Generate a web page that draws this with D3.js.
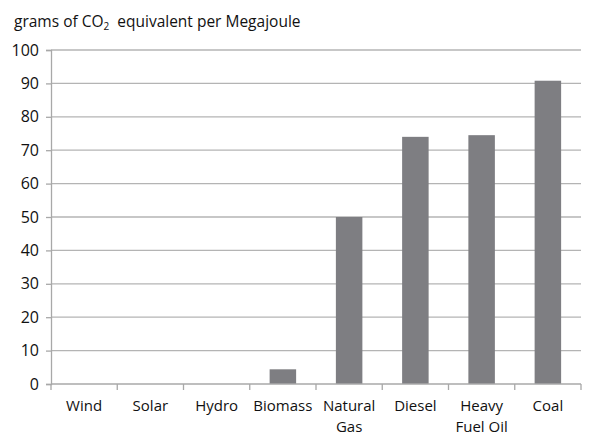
<!DOCTYPE html>
<html>
<head>
<meta charset="utf-8">
<script src="https://cdn.jsdelivr.net/npm/d3@7"></script>
<style>
  body { margin: 0; background: #fff; }
  svg { font-family: "Open Sans", "Noto Sans", sans-serif; }
</style>
</head>
<body>
<svg id="chart" width="590" height="437"></svg>
<script>
// data
let categories = ["Wind", "Solar", "Hydro", "Biomass", "Natural Gas", "Diesel", "Heavy Fuel Oil", "Coal"];
let labelLines = [["Wind"], ["Solar"], ["Hydro"], ["Biomass"], ["Natural", "Gas"], ["Diesel"], ["Heavy", "Fuel Oil"], ["Coal"]];
let emissions = [0, 0, 0, 4.4, 50, 74, 74.5, 90.8];
let yTicks = [0, 10, 20, 30, 40, 50, 60, 70, 80, 90, 100];

let chart = d3.select("#chart");
let plotLeft = 51, plotRight = 581, plotTop = 50, plotBottom = 384;

let data = categories.map(function(d, i) { return { name: d, value: emissions[i], lines: labelLines[i] }; });

// x scale, one band per category
let x = d3.scaleBand()
    .domain(categories)
    .range([plotLeft, plotRight])
    .padding(0);

// y scale
let y = d3.scaleLinear()
    .domain([0, 100])
    .range([plotBottom, plotTop]);

// gridlines
chart.selectAll("grid")
    .data(yTicks.slice(1))
    .enter()
    .append("line")
    .attr("x1", plotLeft)
    .attr("x2", plotRight)
    .attr("y1", function(d) { return y(d); })
    .attr("y2", function(d) { return y(d); })
    .attr("stroke", "#b4b4b4")
    .attr("stroke-width", 1.3);

// y axis
let yAxis = d3.axisLeft(y)
    .tickValues(yTicks)
    .tickSize(5)
    .tickPadding(7);
let yAxisGroup = chart.append("g")
    .attr("transform", "translate(" + plotLeft + ",0)")
    .call(yAxis);
yAxisGroup.select(".domain").attr("stroke", "#a8a8a8").attr("stroke-width", 1.3);
yAxisGroup.selectAll(".tick line").attr("stroke", "#a8a8a8").attr("stroke-width", 1.3);
yAxisGroup.selectAll(".tick text")
    .style("font-size", "16px")
    .style("font-family", "'Open Sans', sans-serif")
    .attr("fill", "#111");

// bars
chart.selectAll("bar")
    .data(data)
    .enter()
    .append("rect")
    .attr("x", function(d) { return x(d.name) + x.bandwidth() * 0.3; })
    .attr("y", function(d) { return y(d.value); })
    .attr("width", x.bandwidth() * 0.4)
    .attr("height", function(d) { return y(0) - y(d.value); })
    .attr("fill", "#7e7e82");

// x axis line and boundary ticks
chart.append("line")
    .attr("x1", plotLeft)
    .attr("x2", plotRight)
    .attr("y1", y(0))
    .attr("y2", y(0))
    .attr("stroke", "#a8a8a8")
    .attr("stroke-width", 1.3);

let edges = categories.map(function(d) { return x(d); }).concat([x.range()[1]]);
chart.selectAll("xtick")
    .data(edges)
    .enter()
    .append("line")
    .attr("x1", function(d) { return d; })
    .attr("x2", function(d) { return d; })
    .attr("y1", y(0))
    .attr("y2", y(0) + 6)
    .attr("stroke", "#a8a8a8")
    .attr("stroke-width", 1.3);

// category labels
let labels = chart.selectAll("xlabel")
    .data(data)
    .enter()
    .append("text")
    .attr("x", function(d) { return x(d.name) + x.bandwidth() / 2; })
    .attr("y", 411)
    .style("font-size", "15px")
    .style("text-anchor", "middle")
    .attr("fill", "#111");
labels.selectAll("tspan")
    .data(function(d) { return d.lines; })
    .enter()
    .append("tspan")
    .attr("x", function() { return d3.select(this.parentNode).attr("x"); })
    .attr("dy", function(d, i) { return i == 0 ? 0 : 20.6; })
    .text(function(d) { return d; });

// unit label
let title = chart.append("text")
    .attr("x", 14)
    .attr("y", 27)
    .style("font-size", "15.5px")
    .style("white-space", "pre")
    .attr("fill", "#111");
title.append("tspan").text("grams of CO");
title.append("tspan").text("2").style("font-size", "10px").attr("dy", 3);
title.append("tspan").text("  equivalent per Megajoule").attr("dy", -3);
</script>
</body>
</html>
